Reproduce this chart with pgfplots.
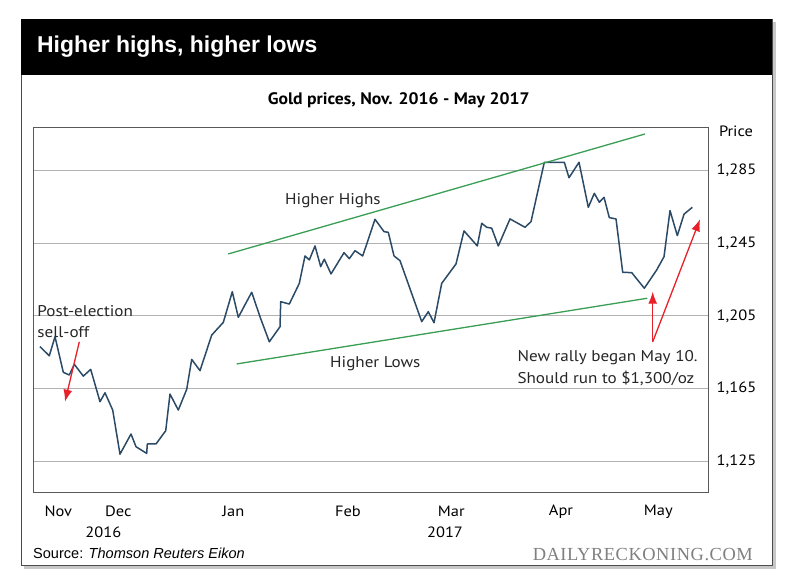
\documentclass[border=0pt]{standalone}
\usepackage{fontspec}
\setmainfont[FakeStretch=1.1]{PT Sans}
\newfontfamily\subfont[FakeStretch=1.06]{PT Sans}
\newfontfamily\titlefont{Liberation Sans}
\newfontfamily\srcfont{Liberation Sans}
\newfontfamily\dailyfont[LetterSpace=3]{Liberation Serif}
\usepackage{pgfplots}
\pgfplotsset{compat=1.18}
\usetikzlibrary{arrows.meta}
\definecolor{linec}{HTML}{2B4A66}
\definecolor{greenc}{HTML}{3A9E55}
\definecolor{redc}{HTML}{E8202A}
\begin{document}
\begin{tikzpicture}[x=1bp,y=1bp]
\path[use as bounding box] (0,0) rectangle (800,585);
\fill[white] (0,0) rectangle (800,585);
\fill[black!22] (24,16) rectangle (776,563);
\filldraw[fill=white,draw=black!70,line width=0.8bp] (21,20) rectangle (772,566);
\fill[black] (21,510) rectangle (772,566);
\node[anchor=west,text=white,inner sep=0pt,font=\titlefont\bfseries\fontsize{23}{27}\selectfont] at (37,538) {Higher highs, higher lows};
\node[inner sep=0pt,font=\subfont\bfseries\fontsize{16.7}{20}\selectfont] at (398.7,485) {Gold prices, Nov. 2016 - May 2017};
\begin{axis}[
  at={(33bp,92bp)}, anchor=south west,
  width=675bp, height=365bp, scale only axis,
  xmin=33, xmax=708, ymin=1107.4, ymax=1308.5,
  clip=false,
  axis line style={draw=black!65, line width=1bp},
  ytick={1125,1165,1205,1245,1285},
  ymajorgrids, grid style={draw=black!30, line width=0.9bp},
  yticklabel pos=right,
  major tick length=0pt,
  /pgf/number format/assume math mode=true,
  /pgf/number format/1000 sep={,},
  yticklabel style={font=\fontsize{15}{18}\selectfont, anchor=west, inner sep=0pt, xshift=8.5bp},
  xtick={58.3,118.3,233.3,348,451.3,561,658.3},
  xticklabels={Nov,Dec,Jan,Feb,Mar,Apr,May},
  xticklabel style={font=\fontsize{15}{18}\selectfont, anchor=center, inner sep=0pt, yshift=-18.5bp},
]
\addplot[linec, line width=1.5bp, line join=round] coordinates {
(40,1188.0) (49.3,1183.0) (55,1193.5) (63.3,1173.9) (69.3,1172.4) (74.3,1178.3)
(83.3,1171.8) (90.7,1175.5) (100,1157.7) (105,1162.6) (112.7,1153.1) (120,1128.8)
(131,1139.9) (136,1132.9) (146.7,1129.2) (147.3,1134.4) (156,1134.4) (165.7,1141.7)
(170,1161.9) (178.3,1153.1) (186.7,1164.5) (191.7,1181.0) (200,1174.8) (211.7,1194.4)
(223.3,1201.4) (232.3,1218.3) (238.3,1204.2) (251.7,1218.0) (260,1204.5) (269.3,1190.7)
(280,1199.0) (280.7,1212.8) (289.3,1211.5) (299.3,1222.9) (305,1238.0) (309.3,1235.8)
(315,1243.5) (320.7,1232.1) (324.3,1236.2) (331,1228.1) (344,1239.8) (349.3,1236.5)
(355,1240.9) (362.7,1238.0) (375,1258.2) (384,1251.4) (388.3,1251.0) (394,1238.0)
(400,1235.4) (421.7,1201.8) (428.3,1207.3) (434,1201.2) (441.7,1222.9) (456,1233.6)
(464,1251.8) (477.3,1243.5) (481.7,1256.0) (486.7,1253.8) (491.7,1253.3) (498.3,1243.5)
(510,1258.4) (525,1253.8) (531,1256.9) (544.3,1289.6) (564.3,1289.6) (569,1281.1)
(579,1289.6) (588.3,1264.8) (594.3,1272.5) (599.3,1267.6) (604,1270.3) (609.3,1259.1)
(616,1258.4) (622.7,1229.0) (631.7,1228.8) (644.3,1220.2) (656.7,1230.3) (664,1237.6)
(670,1263.0) (677.3,1249.2) (684,1261.0) (692.3,1264.8)
};
\addplot[greenc, line width=1.3bp] coordinates {(228.3,1239.1) (645,1305.2)};
\addplot[greenc, line width=1.3bp] coordinates {(236.7,1178.5) (647.3,1214.7)};
\draw[redc, line width=1.3bp, -{Latex[length=12bp,width=9bp]}] (axis cs:79.3,1190.7) -- (axis cs:65,1157.7);
\draw[redc, line width=1.3bp, -{Latex[length=12bp,width=9bp]}] (axis cs:652.7,1190.7) -- (axis cs:652.7,1218.3);
\draw[redc, line width=1.3bp, -{Latex[length=12bp,width=9bp]}] (axis cs:652.7,1190.7) -- (axis cs:700,1258.2);
\node[anchor=base west, inner sep=0pt, font=\fontsize{15.6}{18}\selectfont, text=black!85] at (axis cs:37.3,1204.5) {Post-election};
\node[anchor=base west, inner sep=0pt, font=\fontsize{15.6}{18}\selectfont, text=black!85] at (axis cs:37.3,1193.2) {sell-off};
\node[anchor=base west, inner sep=0pt, font=\fontsize{15.6}{18}\selectfont, text=black!85] at (axis cs:285,1266.6) {Higher Highs};
\node[anchor=base west, inner sep=0pt, font=\fontsize{15.6}{18}\selectfont, text=black!85] at (axis cs:330,1176.4) {Higher Lows};
\node[anchor=base west, inner sep=0pt, font=\fontsize{15.6}{18}\selectfont, text=black!85] at (axis cs:517.3,1179.7) {New rally began May 10.};
\node[anchor=base west, inner sep=0pt, font=\fontsize{15.6}{18}\selectfont, text=black!85] at (axis cs:517.3,1167.8) {Should run to \$1,300/oz};
\end{axis}
\node[inner sep=0pt,font=\fontsize{15}{18}\selectfont] at (736,454) {Price};
\node[inner sep=0pt,font=\fontsize{15}{18}\selectfont] at (103.3,52.3) {2016};
\node[inner sep=0pt,font=\fontsize{15}{18}\selectfont] at (445,52.3) {2017};
\node[anchor=base west,inner sep=0pt,font=\srcfont\fontsize{14.6}{17}\selectfont] at (33,26.7) {Source: \textit{Thomson Reuters Eikon}};
\node[anchor=base east,inner sep=0pt,text=black!50,font=\dailyfont\fontsize{18.5}{21}\selectfont] at (753,24.3) {DAILYRECKONING.COM};
\end{tikzpicture}
\end{document}
